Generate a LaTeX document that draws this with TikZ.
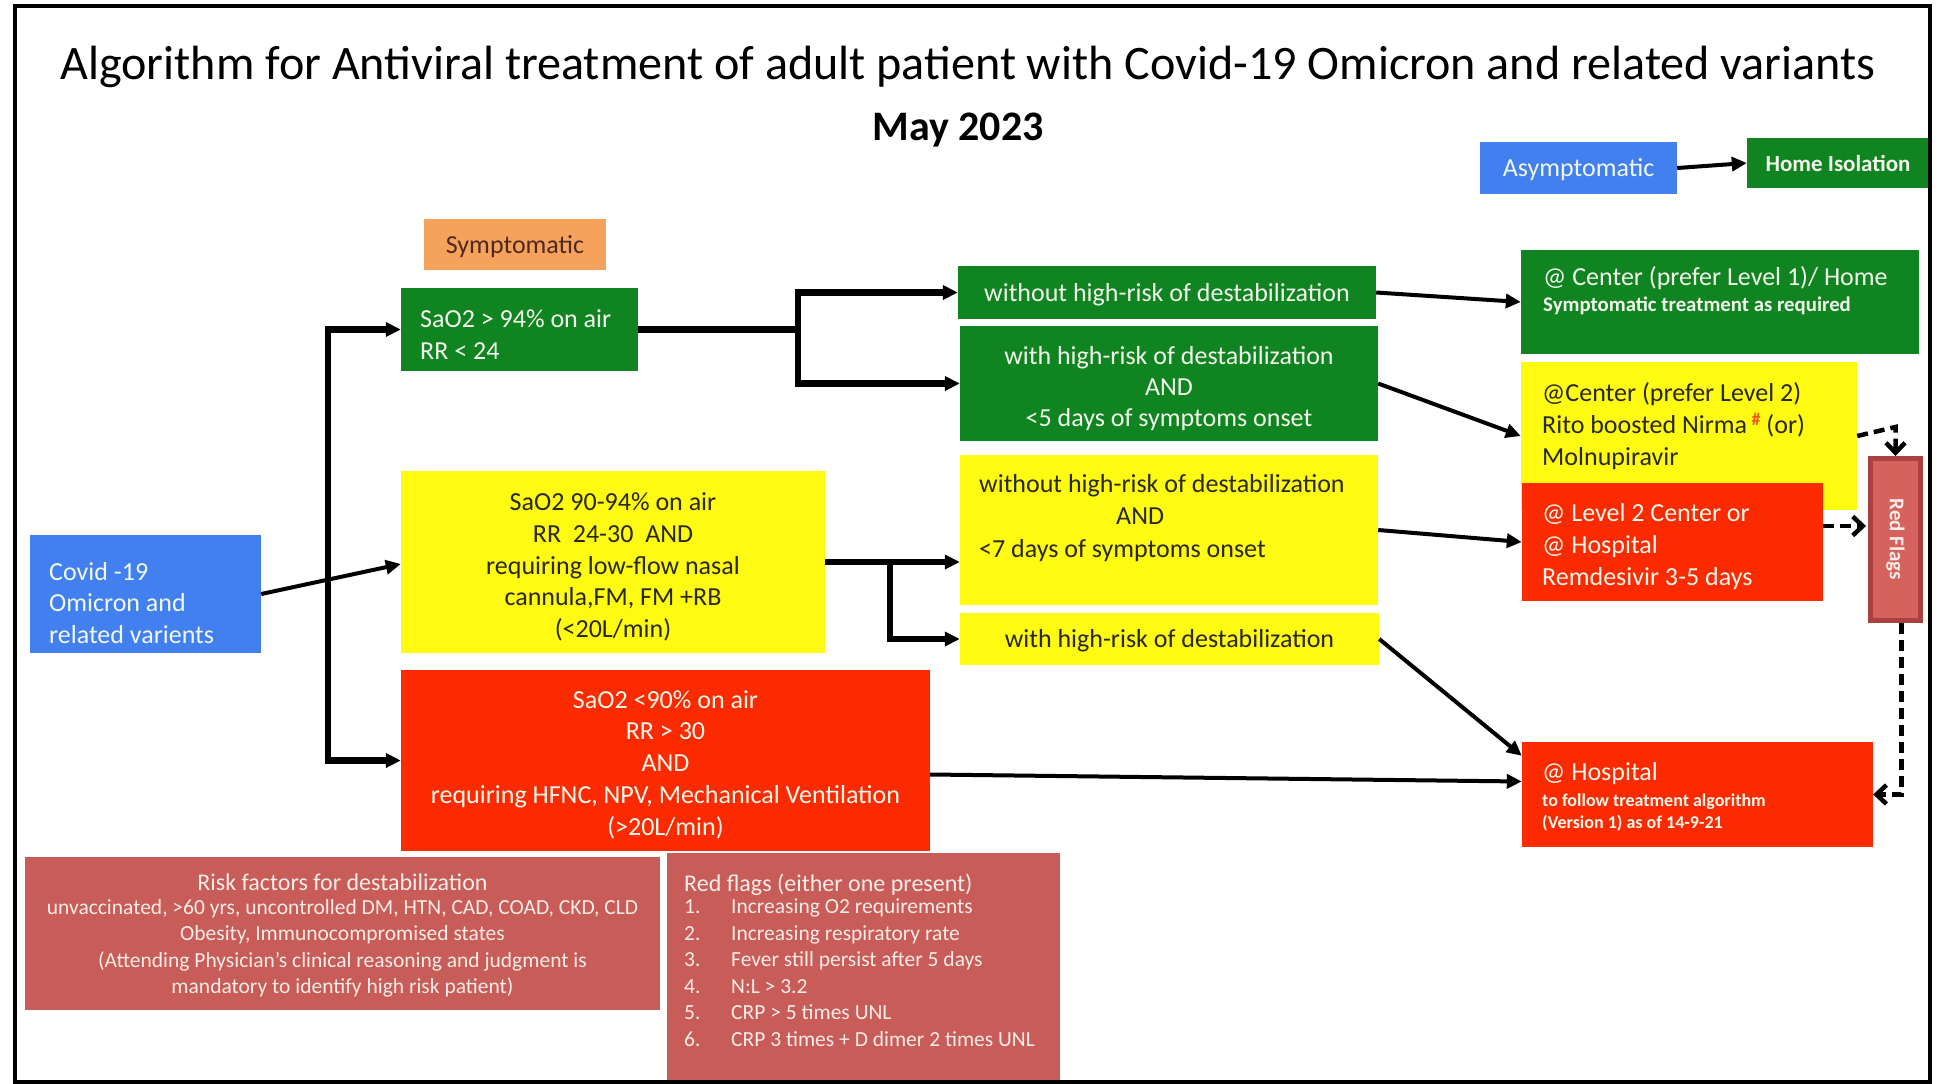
\documentclass[tikz,border=0pt]{standalone}
\usepackage{fontspec}
\setmainfont{Carlito}
\usetikzlibrary{arrows.meta,calc}

\definecolor{boxgreen}{RGB}{16,132,32}
\definecolor{boxyellow}{RGB}{255,250,18}
\definecolor{boxred}{RGB}{252,42,0}
\definecolor{boxblue}{RGB}{66,128,240}
\definecolor{boxorange}{RGB}{245,162,92}
\definecolor{boxbrick}{RGB}{200,92,88}
\definecolor{flagedge}{RGB}{170,64,64}
\definecolor{flagfill}{RGB}{214,98,94}
\definecolor{lighttext}{RGB}{242,248,236}
\definecolor{pinktext}{RGB}{250,236,230}
\definecolor{darktext}{RGB}{40,40,28}
\definecolor{symtext}{RGB}{80,40,30}
\definecolor{hashmark}{RGB}{240,90,30}

\newcommand\boxfont{\fontsize{26}{32}\selectfont}
\newcommand\notefont{\fontsize{21.5}{26.5}\selectfont}
\newcommand\smallbold{\fontsize{18}{22}\selectfont\bfseries}

\tikzset{
  box/.style={rectangle, inner sep=0pt, draw=none, align=center},
  oneline/.style={text height=17pt, text depth=0pt},
  txt/.style={inner sep=0pt, align=left, anchor=west},
  ctxt/.style={inner sep=0pt, align=center},
  tip/.style={-{Triangle[length=15pt,width=14pt]}},
  twotip/.style={{Triangle[length=15pt,width=14pt]}-{Triangle[length=15pt,width=14pt]}},
  busline/.style={line width=6.5pt, line join=miter},
  conn/.style={line width=4pt, tip},
  dashconn/.style={line width=4.5pt, dash pattern=on 11pt off 6pt,
    -{Straight Barb[length=10pt,width=19pt]}},
}

\begin{document}
\begin{tikzpicture}[x=1pt,y=-1pt]
\useasboundingbox (0,0) rectangle (1939,1084);
\fill[white] (0,0) rectangle (1939,1084);

% heading
\node[inner sep=0pt] (title) at (968,67)
  {\fontsize{48.1}{50}\selectfont Algorithm for Antiviral treatment of adult patient with Covid-19 Omicron and related variants};
\node[inner sep=0pt] (date) at (958,130) {\fontsize{42}{44}\selectfont\bfseries May 2023};

% asymptomatic branch
\node[box, oneline, fill=boxblue, minimum width=197pt, minimum height=52pt, font=\boxfont, text=lighttext] (asym) at (1578.5,168)
  {Asymptomatic};
\node[box, oneline, fill=boxgreen, minimum width=182pt, minimum height=50pt, font=\fontsize{23}{28}\selectfont\bfseries, text=lighttext] (home) at (1838,163)
  {Home Isolation};

% symptomatic label and entry box
\node[box, oneline, fill=boxorange, minimum width=182pt, minimum height=51pt, font=\boxfont, text=symtext] (symp) at (515,244.5)
  {Symptomatic};
\node[box, fill=boxblue, minimum width=231pt, minimum height=118pt] (covid) at (145.5,594) {};
\node[txt, font=\fontsize{26}{31.5}\selectfont, text=lighttext] (covidt) at (49,603)
  {Covid -19\\Omicron and\\related varients};

% severity classes
\node[box, fill=boxgreen, minimum width=237pt, minimum height=83pt] (g1) at (519.5,329.5) {};
\node[txt, font=\boxfont, text=lighttext] (g1t) at (420,335)
  {SaO2 > 94\% on air\\RR < 24};

\node[box, fill=boxyellow, minimum width=424pt, minimum height=182pt] (y1) at (613,562) {};
\node[ctxt, font=\fontsize{26}{31.7}\selectfont, text=darktext] (y1t) at ($(y1)+(0,5)$)
  {SaO2 90-94\% on air\\RR\ \ 24-30\ \ AND\\requiring low-flow nasal\\cannula,FM, FM +RB\\(<20L/min)};

\node[box, fill=boxred, minimum width=529pt, minimum height=181pt] (r1) at (665.5,760.5) {};
\node[ctxt, font=\fontsize{26}{31.7}\selectfont, text=lighttext] (r1t) at ($(r1)+(0,4)$)
  {SaO2 <90\% on air\\RR > 30\\AND\\requiring HFNC, NPV, Mechanical Ventilation\\(>20L/min)};

% risk sub-groups
\node[box, oneline, fill=boxgreen, minimum width=418pt, minimum height=53pt, font=\boxfont, text=lighttext] (gwo) at (1167,292.5)
  {without high-risk of destabilization};
\node[box, fill=boxgreen, minimum width=418pt, minimum height=115pt] (gw) at (1169,383.5) {};
\node[ctxt, font=\fontsize{26}{31}\selectfont, text=lighttext] (gwt) at ($(gw)+(0,5)$)
  {with high-risk of destabilization\\AND\\<5 days of symptoms onset};
\node[box, fill=boxyellow, minimum width=418pt, minimum height=150pt] (ywo) at (1169,530) {};
\node[txt, font=\fontsize{26}{32.5}\selectfont, text=darktext] (ywot) at (979,518)
  {without high-risk of destabilization\\\hspace*{137pt}AND\\<7 days of symptoms onset};
\node[box, oneline, fill=boxyellow, minimum width=419pt, minimum height=52pt, font=\boxfont, text=darktext] (yw) at (1169.5,639)
  {with high-risk of destabilization};

% treatment settings
\node[box, fill=boxgreen, minimum width=398pt, minimum height=104pt] (c1) at (1720,302) {};
\node[txt, font=\boxfont, text=lighttext] (c1t) at (1543,291)
  {@ Center (prefer Level 1)/ Home\\[-6pt]\fontsize{20.8}{24}\selectfont\bfseries Symptomatic treatment as required};
\node[box, fill=boxyellow, minimum width=336pt, minimum height=148pt] (c2) at (1689,436) {};
\node[txt, font=\boxfont, text=darktext] (c2t) at (1542,426)
  {@Center (prefer Level 2)\\Rito boosted Nirma\,\raisebox{8pt}{\fontsize{18}{18}\selectfont\bfseries\color{hashmark}\#} (or)\\Molnupiravir};
\node[box, fill=boxred, minimum width=301pt, minimum height=118pt] (l2) at (1672.5,542) {};
\node[txt, font=\boxfont, text=lighttext] (l2t) at (1542,547)
  {@ Level 2 Center or\\@ Hospital\\Remdesivir 3-5 days};
\node[box, fill=boxred, minimum width=351pt, minimum height=105pt] (hosp) at (1697.5,794.5) {};
\node[txt, font=\boxfont, text=lighttext] (hospt) at (1542,797)
  {@ Hospital\\[-6pt]\smallbold to follow treatment algorithm\\[-10pt]\smallbold (Version 1) as of 14-9-21};

% red flags marker
\node[box, fill=flagfill, draw=flagedge, line width=5pt, minimum width=50pt, minimum height=162pt] (rf) at (1895.5,539.5)
  {\rotatebox{-90}{\fontsize{21}{24}\selectfont\bfseries\color{pinktext}Red Flags}};

% notes
\node[box, fill=boxbrick, minimum width=635pt, minimum height=153pt] (risk) at (342.5,933.5) {};
\node[ctxt, text=pinktext, font=\notefont] (riskt) at (342.5,936)
  {\fontsize{24}{29}\selectfont Risk factors for destabilization\\[-3pt]
   \notefont unvaccinated, >60 yrs, uncontrolled DM, HTN, CAD, COAD, CKD, CLD\\
   Obesity, Immunocompromised states\\
   (Attending Physician’s clinical reasoning and judgment is\\
   mandatory to identify high risk patient)};

\node[box, fill=boxbrick, minimum width=393pt, minimum height=230pt] (flags) at (863.5,968) {};
\node[txt, text=pinktext, font=\notefont] (flagst) at (684,960)
  {\fontsize{24}{29}\selectfont Red flags (either one present)\\[-4pt]
   \notefont\makebox[47pt][l]{1.}Increasing O2 requirements\\
   \makebox[47pt][l]{2.}Increasing respiratory rate\\
   \makebox[47pt][l]{3.}Fever still persist after 5 days\\
   \makebox[47pt][l]{4.}N:L > 3.2\\
   \makebox[47pt][l]{5.}CRP > 5 times UNL\\
   \makebox[47pt][l]{6.}CRP 3 times + D dimer 2 times UNL};

% connectors: entry bus
\coordinate (busx) at (328,0);
\draw[busline, twotip] (g1.west) -| (busx |- r1.west) -- (r1.west);
\draw[conn] (covid.east) -- ($(y1.west)+(0,2)$);

% fork after the green class
\coordinate (gfx) at (798,0);
\draw[busline] (g1.east) -- (gfx |- g1.east);
\draw[busline, twotip] (gwo.west) -| (gfx |- gw.west) -- (gw.west);

% fork after the yellow class
\coordinate (yfx) at (890,0);
\draw[busline] (y1.east) -- (yfx |- y1.east);
\draw[busline, twotip] (ywo.west |- y1.east) -| (yfx |- yw.west) -- (yw.west);

% sub-groups to settings
\draw[conn] (asym.east) -- (home.west);
\draw[conn] (gwo.east) -- (c1.west);
\draw[conn] (gw.east) -- (c2.west);
\draw[conn] (ywo.east) -- (l2.west);
\draw[conn] (yw.east) -- ($(hosp.north west)+(0,14)$);
\draw[conn] ($(r1.east)+(0,14)$) -- ($(hosp.west)+(0,-13)$);

% escalation on red flags
\coordinate (rfcorner) at ($(rf.north)+(0,-29)$);
\draw[dashconn] (c2.east) -- (rfcorner) -- (rf.north);
\draw[dashconn] ($(l2.east)+(0,-16)$) -- ($(l2.east -| rf.west)+(-2,-16)$);
\draw[dashconn] ($(rf.south)+(6,0)$) |- (hosp.east);

% outer frame
\draw[line width=4pt] (15,6) rectangle (1930,1082);
\end{tikzpicture}
\end{document}
